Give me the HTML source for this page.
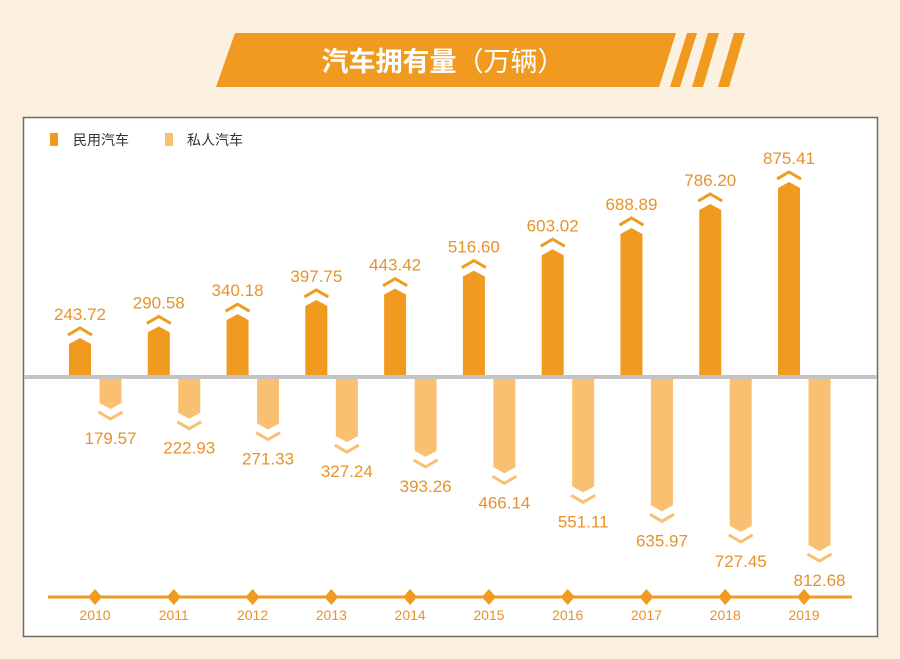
<!DOCTYPE html>
<html><head><meta charset="utf-8"><style>
body{margin:0;background:#fcf1e1;}
svg{display:block;font-family:"Liberation Sans","Noto Sans CJK SC",sans-serif;}
</style></head><body>
<svg width="900" height="659" viewBox="0 0 900 659" xmlns="http://www.w3.org/2000/svg">
<rect width="900" height="659" fill="#fcf1e1"/>
<polygon points="235,33 676,33 659,87 216,87" fill="#f09a20"/>
<polygon points="687,33 697,33 680,87 670,87" fill="#f09a20"/>
<polygon points="708,33 719,33 703,87 692,87" fill="#f09a20"/>
<polygon points="734,33 745,33 729,87 718,87" fill="#f09a20"/>
<text x="443" y="71" text-anchor="middle" fill="#fff" font-size="27" font-weight="bold" font-family="'Noto Sans CJK SC',sans-serif">汽车拥有量<tspan font-weight="normal">（万辆）</tspan></text>
<rect x="23.5" y="117.5" width="854" height="519" fill="#fff" stroke="#6e6a66" stroke-width="1.5"/>
<rect x="50" y="133" width="8" height="13" fill="#f09a20"/>
<text x="73" y="145" font-size="14" fill="#333" font-family="'Noto Sans CJK SC',sans-serif">民用汽车</text>
<rect x="165" y="133" width="8" height="13" fill="#f8c070"/>
<text x="187" y="145" font-size="14" fill="#333" font-family="'Noto Sans CJK SC',sans-serif">私人汽车</text>
<g id="bars"></g>
<line x1="24" y1="377" x2="877" y2="377" stroke="#c4c4c4" stroke-width="4"/>
<line x1="48" y1="597" x2="852" y2="597" stroke="#f09a20" stroke-width="3"/>
</svg>
<script>
var A=[243.72,290.58,340.18,397.75,443.42,516.60,603.02,688.89,786.20,875.41];
var B=[179.57,222.93,271.33,327.24,393.26,466.14,551.11,635.97,727.45,812.68];
var g=document.getElementById('bars'),s='';
for(var i=0;i<10;i++){
 var cx=80+i*78.78,lx=110.5+i*78.78;
 var h=-22.2+0.247*A[i],tip=376-h;
 s+='<polygon points="'+(cx-11)+',376 '+(cx-11)+','+(tip+6)+' '+cx+','+tip+' '+(cx+11)+','+(tip+6)+' '+(cx+11)+',376" fill="#f09a20"/>';
 s+='<polyline points="'+(cx-12)+','+(tip-3)+' '+cx+','+(tip-10)+' '+(cx+12)+','+(tip-3)+'" fill="none" stroke="#f09a20" stroke-width="3"/>';
 s+='<text x="'+cx+'" y="'+(tip-18)+'" text-anchor="middle" font-size="17" fill="#e8922a">'+A[i].toFixed(2)+'</text>';
 var hb=-10.3+0.2243*B[i],tb=379+hb;
 s+='<polygon points="'+(lx-11)+',379 '+(lx-11)+','+(tb-6)+' '+lx+','+tb+' '+(lx+11)+','+(tb-6)+' '+(lx+11)+',379" fill="#f8c070"/>';
 s+='<polyline points="'+(lx-12)+','+(tb+3)+' '+lx+','+(tb+10)+' '+(lx+12)+','+(tb+3)+'" fill="none" stroke="#f8c070" stroke-width="3"/>';
 s+='<text x="'+lx+'" y="'+(tb+35)+'" text-anchor="middle" font-size="17" fill="#e8922a">'+B[i].toFixed(2)+'</text>';
 var dx=95+i*78.78;
 s+='<polygon points="'+dx+',589 '+(dx+7)+',597 '+dx+',605 '+(dx-7)+',597" fill="#f09a20"/>';
 s+='<text x="'+dx+'" y="620" text-anchor="middle" font-size="14" fill="#e8922a">'+(2010+i)+'</text>';
}
g.innerHTML=s;
var svg=document.querySelector('svg');svg.innerHTML=svg.innerHTML;
</script>
</body></html>
